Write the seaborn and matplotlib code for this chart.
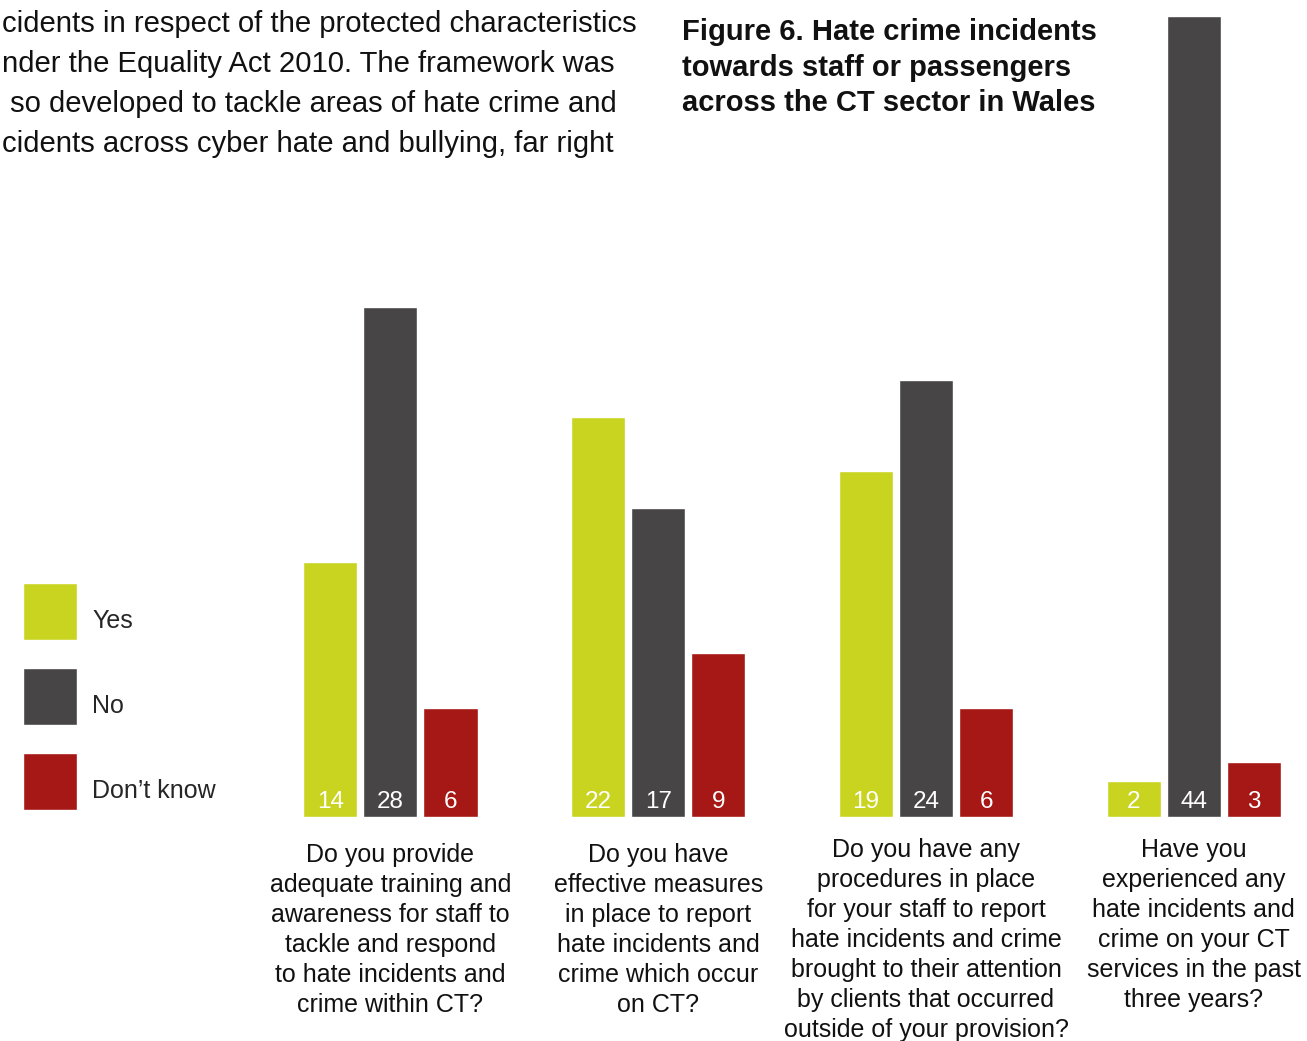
import matplotlib
matplotlib.use("Agg")
import matplotlib.pyplot as plt
from matplotlib.patches import Patch, Rectangle
from matplotlib.legend_handler import HandlerPatch
import seaborn as sns
import pandas as pd

# Survey responses per question
questions = [
    "Do you provide\nadequate training and\nawareness for staff to\ntackle and respond\nto hate incidents and\ncrime within CT?",
    "Do you have\neffective measures\nin place to report\nhate incidents and\ncrime which occur\non CT?",
    "Do you have any\nprocedures in place\nfor your staff to report\nhate incidents and crime\nbrought to their attention\nby clients that occurred\noutside of your provision?",
    "Have you\nexperienced any\nhate incidents and\ncrime on your CT\nservices in the past\nthree years?",
]
answers = ["Yes", "No", "Don\u2019t know"]
yes_counts = [14, 22, 19, 2]
no_counts = [28, 17, 24, 44]
dont_know_counts = [6, 9, 6, 3]
colors = ["#C9D420", "#474546", "#A51815"]

title_lines = [
    "Figure 6. Hate crime incidents",
    "towards staff or passengers",
    "across the CT sector in Wales",
]
body_lines = [
    "cidents in respect of the protected characteristics",
    "nder the Equality Act 2010. The framework was",
    " so developed to tackle areas of hate crime and",
    "cidents across cyber hate and bullying, far right",
]

rows = []
for q, y, n, d in zip(questions, yes_counts, no_counts, dont_know_counts):
    rows += [(q, answers[0], y), (q, answers[1], n), (q, answers[2], d)]
df = pd.DataFrame(rows, columns=["question", "answer", "count"])

sns.set_style("white")
plt.rcParams["font.family"] = ["Liberation Sans", "DejaVu Sans"]

W, H = 1307, 1041
fig = plt.figure(figsize=(W / 100, H / 100), dpi=100)
ax = fig.add_axes([0, 0, 1, 1])

sns.barplot(data=df, x="question", y="count", hue="answer", hue_order=answers,
            palette=colors, width=0.674, gap=0.1, saturation=1, ax=ax,
            legend=False)

ax.set_xlim(-1.4575, 3.4229)
ax.set_ylim(-12.31, 44.89)
ax.axis("off")

# Value labels near the base of each bar
for cont in ax.containers:
    for bar, val in zip(cont, cont.datavalues):
        ax.annotate(f"{val:g}", xy=(bar.get_x() + bar.get_width() / 2, 0),
                    xytext=(0, 11), textcoords="offset points",
                    ha="center", va="center", color="white", fontsize=17.5)

# Question labels under each group
for i, q in enumerate(questions):
    top = -1.41 if i < 2 else -1.13
    ax.text(i, top, q, ha="center", va="top", fontsize=18,
            linespacing=1.32, color="#111111")


# Legend swatches sit a little above the label baseline
def raised_square(legend, orig_handle, xdescent, ydescent, width, height, fontsize):
    return Rectangle((-xdescent, -ydescent + 6.5), width, height)


handles = [Patch(facecolor=cont.patches[0].get_facecolor(), label=a)
           for cont, a in zip(ax.containers, answers)]
ax.legend(handles=handles, loc="upper left",
          bbox_to_anchor=(23 / W, 1 - 592 / H), bbox_transform=fig.transFigure,
          frameon=False, fontsize=18, handlelength=2.16, handleheight=3.13,
          labelspacing=1.12, handletextpad=0.6, borderpad=0, borderaxespad=0,
          handler_map={Patch: HandlerPatch(patch_func=raised_square)})

for k, line in enumerate(title_lines):
    fig.text(682 / W, 1 - (32 + 35.5 * k) / H, line, ha="left", va="center",
             fontsize=21, fontweight="bold", color="#111111")

for k, line in enumerate(body_lines):
    fig.text(2 / W, 1 - (24 + 40 * k) / H, line, ha="left", va="center",
             fontsize=21.1, color="#111111")

fig.savefig("out.png", dpi=100)
